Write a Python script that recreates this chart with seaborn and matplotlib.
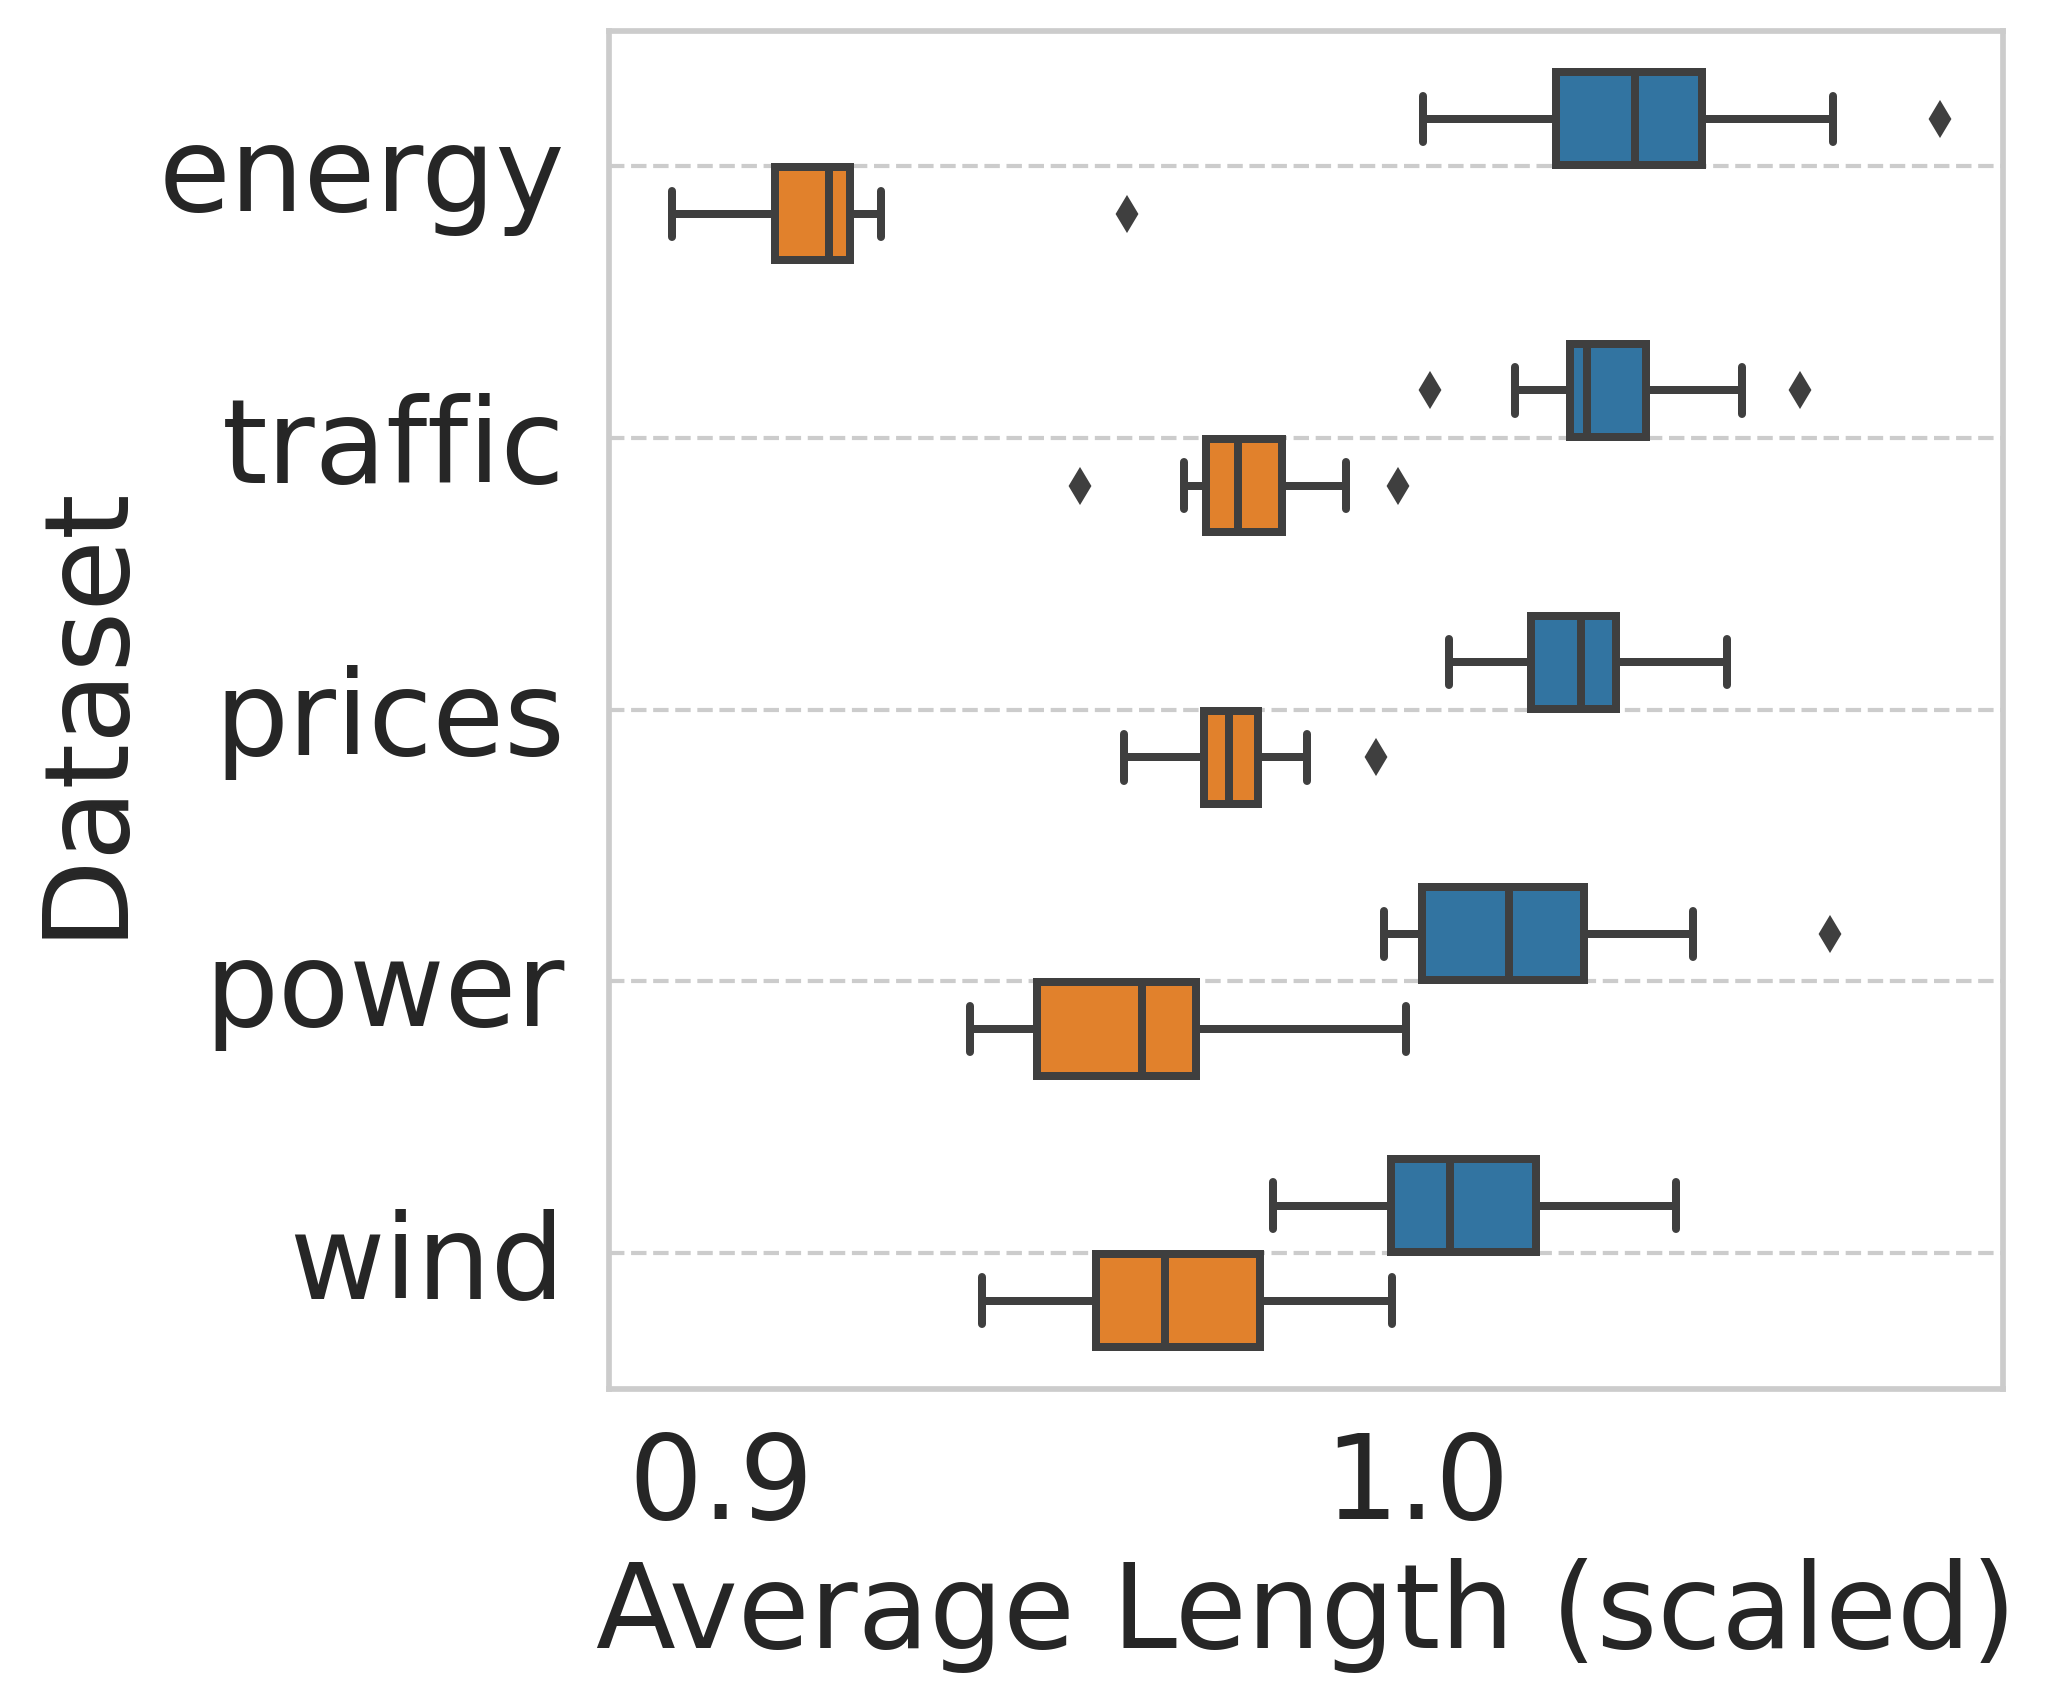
import numpy as np
import pandas as pd
import matplotlib
matplotlib.use("Agg")
import matplotlib.pyplot as plt
import seaborn as sns

# ---------------- data ----------------
datasets = ["energy", "traffic", "prices", "power", "wind"]
methods = ["Method A", "Method B"]

# values per dataset for the first (blue) and second (orange) series
energy_a = [1.0008, 1.0008, 1.0199, 1.0255, 1.0313, 1.0360, 1.0409, 1.0597, 1.0750]
energy_b = [0.8930, 0.8930, 0.9078, 0.9120, 0.9155, 0.9170, 0.9185, 0.9230, 0.9583]
traffic_a = [1.0018, 1.0140, 1.0219, 1.0230, 1.0243, 1.0285, 1.0328, 1.0466, 1.0549]
traffic_b = [0.9516, 0.9665, 0.9697, 0.9720, 0.9743, 0.9775, 0.9805, 0.9898, 0.9972]
prices_a = [1.0045, 1.0045, 1.0163, 1.0200, 1.0235, 1.0260, 1.0285, 1.0444, 1.0444]
prices_b = [0.9579, 0.9579, 0.9693, 0.9712, 0.9730, 0.9750, 0.9771, 0.9842, 0.9941]
power_a = [0.9952, 0.9952, 1.0007, 1.0070, 1.0131, 1.0185, 1.0239, 1.0396, 1.0593]
power_b = [0.9357, 0.9357, 0.9454, 0.9530, 0.9604, 0.9640, 0.9682, 0.9984, 0.9984]
wind_a = [0.9792, 0.9792, 0.9962, 1.0005, 1.0047, 1.0110, 1.0170, 1.0372, 1.0372]
wind_b = [0.9375, 0.9375, 0.9539, 0.9590, 0.9638, 0.9705, 0.9774, 0.9963, 0.9963]

series_a = [energy_a, traffic_a, prices_a, power_a, wind_a]
series_b = [energy_b, traffic_b, prices_b, power_b, wind_b]

x_label = "Average Length (scaled)"
y_label = "Dataset"
x_ticks = [0.9, 1.0]
x_ticklabels = ["0.9", "1.0"]

rows = []
for ds, va, vb in zip(datasets, series_a, series_b):
    for v in va:
        rows.append((ds, methods[0], v))
    for v in vb:
        rows.append((ds, methods[1], v))
df = pd.DataFrame(rows, columns=[y_label, "Method", x_label])

# ---------------- style ----------------
sns.set_theme(style="whitegrid")
plt.rcParams["font.family"] = ["DejaVu Sans"]

DPI = 300
fig, ax = plt.subplots(figsize=(2045 / DPI, 1705 / DPI), dpi=DPI)
fig.subplots_adjust(left=0.2977, right=0.9795, top=0.9821, bottom=0.1854)

gray = "#3f3f3f"
sns.boxplot(
    data=df, x=x_label, y=y_label, hue="Method",
    order=datasets, hue_order=methods, orient="h",
    palette=["tab:blue", "tab:orange"], saturation=0.75,
    width=0.7, gap=0.02, linewidth=1.92, linecolor=gray,
    fliersize=5,
    flierprops=dict(marker="d", markerfacecolor=gray, markeredgecolor=gray,
                    markeredgewidth=1.0),
    legend=False, ax=ax,
)

ax.xaxis.grid(False)
ax.yaxis.grid(True, linestyle="--", linewidth=1.0, color="#cccccc")
ax.set_axisbelow(True)
for s in ax.spines.values():
    s.set_color("#cccccc")
    s.set_linewidth(1.37)

FS = 28
ax.set_xticks(x_ticks)
ax.set_xticklabels(x_ticklabels)
ax.tick_params(axis="x", labelsize=FS, length=0, pad=9.6)
ax.tick_params(axis="y", labelsize=FS, length=0, pad=10.5)
ax.set_xlabel(x_label, fontsize=FS, labelpad=3.5)
ax.set_ylabel(y_label, fontsize=FS, labelpad=4)

fig.savefig("out.png", dpi=DPI)
